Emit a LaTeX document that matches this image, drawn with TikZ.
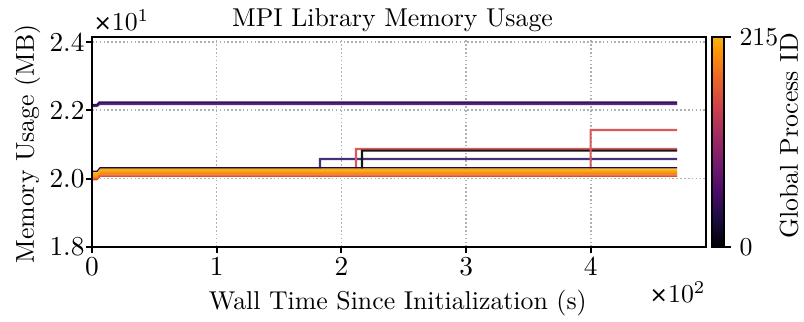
\documentclass[tikz,border=0pt]{standalone}
\usepackage{fontspec}
\newfontfamily\symfont{DejaVu Sans}

% inferno colour stops used by the colour bar
\definecolor{inf0}{HTML}{000004}
\definecolor{inf1}{HTML}{1B0C41}
\definecolor{inf2}{HTML}{4A0C6B}
\definecolor{inf3}{HTML}{781C6D}
\definecolor{inf4}{HTML}{A52C60}
\definecolor{inf5}{HTML}{CF4446}
\definecolor{inf6}{HTML}{ED6925}
\definecolor{inf7}{HTML}{FB9B06}
\definecolor{inf8}{HTML}{F9AF1B}
\definecolor{gridgray}{HTML}{B0B0B0}
% per-process trace colours
\definecolor{procA}{HTML}{3A0F62}
\definecolor{procB}{HTML}{5B2A7E}
\definecolor{procStepP}{HTML}{45307A}
\definecolor{procStepR}{HTML}{DA5A5C}
\definecolor{procStepK}{HTML}{141414}
\definecolor{bandNavy}{HTML}{1F0C48}
\definecolor{bandY1}{HTML}{F9B81E}
\definecolor{bandY2}{HTML}{FCB014}
\definecolor{bandO1}{HTML}{FCA50A}
\definecolor{bandO2}{HTML}{FA9410}
\definecolor{bandO3}{HTML}{F3801B}
\definecolor{bandR1}{HTML}{E8652A}
\definecolor{bandR2}{HTML}{D9513A}

\newcommand{\timesmark}{{\symfont\fontsize{8.5}{10}\selectfont ×}}

\begin{document}
\begin{tikzpicture}[x=0.3876pt,y=-0.3876pt,
  spine/.style={line width=0.8pt},
  tickmark/.style={line width=0.8pt},
  gridline/.style={gridgray,line width=0.6pt,dash pattern=on 0.6pt off 0.9pt},
  series/.style={line width=0.8pt,line join=miter},
  bandline/.style={line width=0.55pt},
  ticklabel/.style={inner sep=0pt,font=\fontsize{10.6}{12}\selectfont},
  cblabelstyle/.style={inner sep=0pt,font=\fontsize{10}{12}\selectfont},
  axlabel/.style={inner sep=0pt,font=\fontsize{10}{12}\selectfont},
]
\useasboundingbox (0,0) rectangle (804,322);
\fill[white] (0,0) rectangle (804,322);

% axes corners
\coordinate (axSW) at (92,247);
\coordinate (axNE) at (706,37);

% dotted grid
\foreach \gx in {216.7,341.4,466.1,590.8}
  \draw[gridline] (\gx,247) -- (\gx,37);
\foreach \gy in {178.6,110.2,41.8}
  \draw[gridline] (92,\gy) -- (706,\gy);

% processes that step up during the run
\draw[series,procStepP] (92,173) -- (97,173) -- (100,169.5) -- (320,169.5) -- (320,159) -- (677,159);
\draw[series,procStepR] (92,174) -- (97,174) -- (100,170) -- (356,170) -- (356,149) -- (677,149);
\draw[series,procStepK] (92,174) -- (97,174) -- (100,170) -- (362,170) -- (362,150.7) -- (677,150.7);
\draw[series,procStepR] (92,174) -- (97,174) -- (100,170) -- (590.7,170) -- (590.7,130) -- (677,130);

% bulk of the processes near 20.2 MB
\foreach \yy/\cc in {176.2/bandR2,175/bandR1,173.8/bandO3,172.6/bandO2,171.4/bandO1,170.2/bandY2,169/bandY1}
  \draw[bandline,\cc] (92,\yy+3.5) -- (97,\yy+3.5) -- (100,\yy) -- (677,\yy);
\draw[line width=0.45pt,bandNavy] (92,171.3) -- (97,171.3) -- (100,167.8) -- (677,167.8);

% processes near 22.2 MB
\draw[series,procB] (92,106) -- (97,106) -- (99.5,104) -- (677,104);
\draw[series,procA] (92,104.8) -- (97,104.8) -- (99.5,102.4) -- (677,102.4);

% axes frame
\draw[spine] (axSW) rectangle (axNE);

% y ticks
\foreach \ty/\lab [count=\i] in {247/1.8,178.6/2.0,110.2/2.2,41.8/2.4}{
  \draw[tickmark] (92,\ty) -- (85.5,\ty);
  \node[ticklabel,anchor=east] (ytick\i) at (85,\ty) {\lab};
}
% x ticks
\foreach \tx/\lab [count=\i] in {92/0,216.7/1,341.4/2,466.1/3,590.8/4}{
  \draw[tickmark] (\tx,247) -- (\tx,253.5);
  \node[ticklabel,anchor=base] (xtick\i) at (\tx,275.5) {\lab};
}

% offset multipliers
\node[cblabelstyle,anchor=base west] (yoffset) at (93,31) {\timesmark$10^{1}$};
\node[cblabelstyle,anchor=base east] (xoffset) at (706,303) {\timesmark$10^{2}$};

% title and axis labels
\node[axlabel,anchor=base] (title) at (392.5,26.7) {MPI Library Memory Usage};
\node[axlabel,anchor=base] (xlabel) at (397.8,310) {Wall Time Since Initialization (s)};
\node[axlabel,rotate=90] (ylabel) at (27.5,144) {Memory Usage (MB)};

% colour bar
\shade[top color=inf8,bottom color=inf7] (712,37) rectangle (724,48.1);
\shade[top color=inf7,bottom color=inf6] (712,47.8) rectangle (724,76.5);
\shade[top color=inf6,bottom color=inf5] (712,76.2) rectangle (724,104.9);
\shade[top color=inf5,bottom color=inf4] (712,104.6) rectangle (724,133.6);
\shade[top color=inf4,bottom color=inf3] (712,133.3) rectangle (724,162);
\shade[top color=inf3,bottom color=inf2] (712,161.7) rectangle (724,190.4);
\shade[top color=inf2,bottom color=inf1] (712,190.1) rectangle (724,218.9);
\shade[top color=inf1,bottom color=inf0] (712,218.6) rectangle (724,247);
\draw[spine] (712,37) rectangle (724,247);
\draw[tickmark] (724,37) -- (731,37);
\draw[tickmark] (724,247) -- (731,247);
\node[cblabelstyle,anchor=west] (cbmax) at (739,37) {215};
\node[cblabelstyle,anchor=west] (cbmin) at (739,247) {0};
\node[axlabel,rotate=90] (cblabel) at (789,136) {Global Process ID};
\end{tikzpicture}
\end{document}
